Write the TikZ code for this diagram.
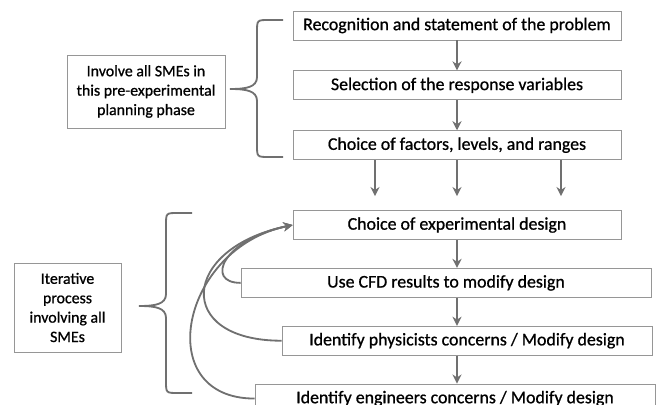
\documentclass[tikz,border=0pt]{standalone}
\usepackage{fontspec}
\setmainfont{Carlito}[FakeBold=0.8]
\usepackage{tikz}
\usetikzlibrary{arrows.meta,positioning,calc}
\definecolor{linegray}{RGB}{112,112,112}
\definecolor{boxgray}{RGB}{150,150,150}
\begin{document}
\begin{tikzpicture}[stage/.style={draw=boxgray,line width=0.6pt,fill=white,minimum height=0.725cm,inner sep=2pt,font=\fontsize{12.7}{15}\selectfont},
  note/.style={draw=boxgray,line width=0.6pt,fill=white,align=center,inner sep=2pt,font=\fontsize{11.3}{13.8}\selectfont},
  arr/.style={draw=linegray,line width=1.3pt,-{Stealth[length=6.5pt,width=6.5pt]}},
  brace/.style={draw=linegray,line width=1.3pt}]
\useasboundingbox (0,0) rectangle (16.425,10.1);
\clip (0,0) rectangle (16.425,10.1);
% planning phase
\node[stage,minimum width=8.2cm] (rec) at (11.425,9.4625) {Recognition and statement of the problem};
\node[stage,minimum width=8.2cm,below=0.75cm of rec] (sel) {Selection of the response variables};
\node[stage,minimum width=8.2cm,below=0.75cm of sel] (fac) {Choice of factors, levels, and ranges};
\draw[arr] (rec) -- (sel);
\draw[arr] (sel) -- (fac);
% design loop
\node[stage,minimum width=8.2cm,below=1.25cm of fac] (des) {Choice of experimental design};
\node[stage,minimum width=10.25cm,below=0.7cm of des,xshift=-0.275cm] (cfd) {Use CFD results to modify design};
\node[stage,minimum width=9.25cm,below=0.7cm of cfd,xshift=0.525cm] (phy) {Identify physicists concerns / Modify design};
\node[stage,minimum width=10cm,below=0.7cm of phy,xshift=-0.3cm] (eng) {Identify engineers concerns / Modify design};
\foreach \dx in {-2.05,0,2.6}
  \draw[arr] ([xshift=\dx cm]fac.south) -- ([xshift=\dx cm,yshift=0.35cm]des.north);
\draw[arr] (des.south) -- (des.south |- cfd.north);
\draw[arr] (des.south |- cfd.south) -- (des.south |- phy.north);
\draw[arr] (des.south |- phy.south) -- (des.south |- eng.north);
\draw[arr] (eng.west) .. controls +(-2.6,0) and +(-2.8,-0.575) .. (des.west);
\draw[arr] (phy.west) .. controls +(-2.7,0) and +(-2.8,-0.575) .. (des.west);
\draw[arr] (cfd.west) .. controls +(-0.9,0) and +(-1.75,-0.36) .. (des.west);
% notes and braces
\node[note,minimum width=3.95cm,minimum height=1.825cm] (inv) at (3.65,7.8125) {Involve all SMEs in\\this pre-experimental\\planning phase};
\node[note,minimum width=2.675cm,minimum height=2.225cm] (ite) at (1.6875,2.4125) {Iterative\\process\\involving all\\SMEs};
\foreach \x/\yt/\ym/\yb in {6.425/9.6/7.875/6.175,4.15/4.775/2.45/0.275}
  \draw[brace] (\x+0.65,\yt) -- (\x+0.3,\yt) .. controls (\x,\yt) .. (\x,\yt-0.3) -- (\x,\ym+0.3)
    .. controls (\x,\ym+0.05) and (\x-0.25,\ym) .. (\x-0.675,\ym)
    .. controls (\x-0.25,\ym) and (\x,\ym-0.05) .. (\x,\ym-0.3) -- (\x,\yb+0.3)
    .. controls (\x,\yb) .. (\x+0.3,\yb) -- (\x+0.65,\yb);
\end{tikzpicture}
\end{document}
